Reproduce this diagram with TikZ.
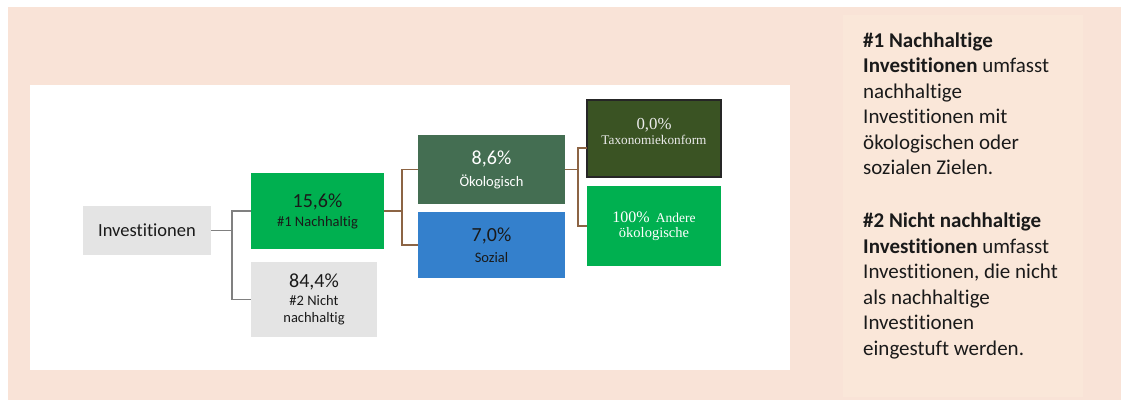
\documentclass[tikz,border=0pt]{standalone}
\usepackage{fontspec}
\setmainfont{Carlito}[Ligatures=NoCommon]
\newfontfamily\timesf{Liberation Serif}
\definecolor{peach}{RGB}{249,227,215}
\definecolor{panelc}{RGB}{250,231,217}
\definecolor{boxgray}{RGB}{228,228,228}
\definecolor{greenA}{RGB}{0,176,80}
\definecolor{oekc}{RGB}{68,110,82}
\definecolor{sozc}{RGB}{52,128,204}
\definecolor{taxc}{RGB}{58,83,35}
\definecolor{brownc}{RGB}{140,100,68}
\definecolor{grayline}{RGB}{128,128,128}
\definecolor{txtdark}{RGB}{26,26,26}
\newcommand\fsPct{\fontsize{20}{20}\selectfont}
\begin{document}
\begin{tikzpicture}[x=1pt,y=-1pt,
  box/.style={rectangle, inner sep=0pt, outer sep=0pt, align=center, anchor=north west},
  gline/.style={draw=grayline, line width=1.3pt},
  bline/.style={draw=brownc, line width=1.3pt}]
\fill[white] (0,0) rectangle (1125,405);
\fill[peach] (8,7) rectangle (1121,400);
\fill[panelc] (843,15) rectangle (1083,397);
\fill[white] (30,85) rectangle (790,370);
\useasboundingbox (0,0) rectangle (1125,405);

\node[box, fill=boxgray, minimum width=128pt, minimum height=49pt,
  font=\fontsize{18.5}{22}\selectfont, text=txtdark] (inv) at (83,206) {Investitionen};
\node[box, fill=greenA, minimum width=133pt, minimum height=76pt,
  font=\fontsize{14.5}{19}\selectfont, text=txtdark] (n1) at (251,173)
  {{\fsPct 15,6\%}\\\#1 Nachhaltig};
\node[box, fill=boxgray, minimum width=126pt, minimum height=75pt,
  font=\fontsize{14.5}{17.5}\selectfont, text=txtdark] (n2) at (251,262)
  {{\fsPct 84,4\%}\\\#2 Nicht\\nachhaltig};
\node[box, fill=oekc, minimum width=147pt, minimum height=69pt,
  font=\fontsize{14.5}{22}\selectfont, text=white] (oek) at (418,135)
  {{\fsPct 8,6\%}\\Ökologisch};
\node[box, fill=sozc, minimum width=147pt, minimum height=66pt,
  font=\fontsize{14.5}{21}\selectfont, text=txtdark] (soz) at (418,212)
  {{\fsPct 7,0\%}\\Sozial};
\node[box, fill=taxc, draw=black!85, line width=1.5pt, minimum width=134pt, minimum height=77pt,
  font=\timesf\fontsize{13.25}{15}\selectfont, text=white!92!black, text depth=14pt] (tax) at (587,100)
  {{\fontsize{16.8}{16.8}\selectfont 0,0\%}\\Taxonomiekonform};
\node[box, fill=greenA, minimum width=134pt, minimum height=80pt,
  font=\timesf\fontsize{14.5}{15}\selectfont, text=white] (andr) at (587,186)
  {{\fontsize{16}{16}\selectfont 100\%}\hspace{6pt}{\fontsize{13.5}{15}\selectfont Andere}\\ökologische};

\draw[gline] (inv.east) -- ++(21,0) coordinate (j1);
\draw[gline] (j1) |- (n1.west);
\draw[gline] (j1) |- (n2.west);
\draw[bline] (n1.east) -- ++(18,0) coordinate (j2);
\draw[bline] (j2) |- (oek.west);
\draw[bline] (j2) |- (soz.west);
\draw[bline] (oek.east) -- ++(13,0) coordinate (j3);
\draw[bline] (j3) |- ([yshift=-9.5pt]tax.west);
\draw[bline] (j3) |- (andr.west);

\node[anchor=north west, align=left, inner sep=0pt, font=\fontsize{21}{25.5}\selectfont, text=txtdark] (expl) at (863,32.5)
  {\textbf{\#1 Nachhaltige}\\\textbf{Investitionen} umfasst\\nachhaltige\\Investitionen mit\\ökologischen oder\\sozialen Zielen.\\[27.5pt]%
   \textbf{\#2 Nicht nachhaltige}\\\textbf{Investitionen} umfasst\\Investitionen, die nicht\\als nachhaltige\\Investitionen\\eingestuft werden.};
\end{tikzpicture}
\end{document}
